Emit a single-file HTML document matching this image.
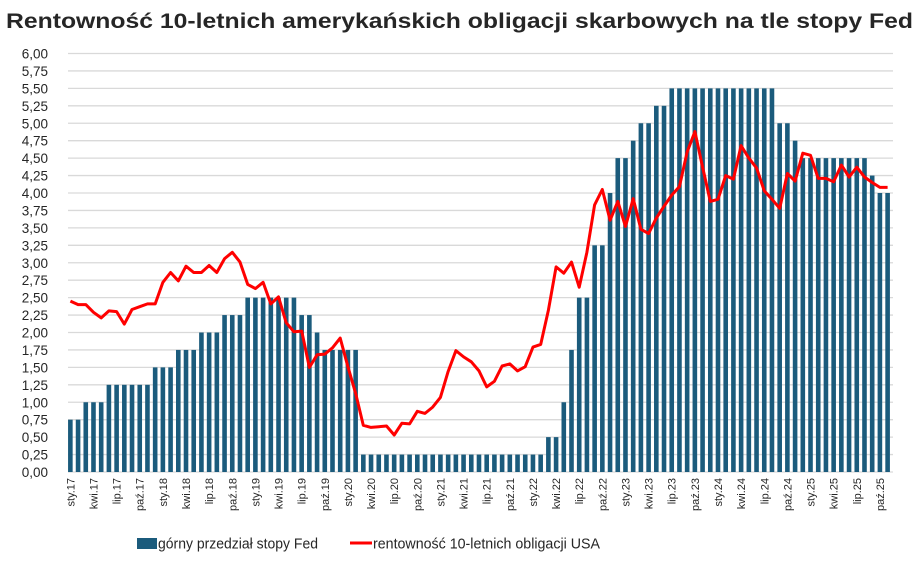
<!DOCTYPE html>
<html><head><meta charset="utf-8"><style>
body{margin:0;background:#fff;}
svg{display:block;font-family:"Liberation Sans","DejaVu Sans",sans-serif;}
</style></head><body>
<svg id="chart" width="920" height="564" viewBox="0 0 920 564" xmlns="http://www.w3.org/2000/svg">
<text x="6" y="28" font-size="21" font-weight="bold" fill="#262626" textLength="907" lengthAdjust="spacingAndGlyphs">Rentowność 10-letnich amerykańskich obligacji skarbowych na tle stopy Fed</text>
<g id="grid"></g>
<g id="yticks"></g>
<g id="bars"></g>
<g id="line"></g>
<g id="xticks"></g>
<g>
<rect x="137" y="538" width="20" height="11" fill="#1b5b7c"/>
<text x="158" y="548.5" font-size="15" fill="#262626" textLength="160" lengthAdjust="spacingAndGlyphs">górny przedział stopy Fed</text>
<line x1="350" y1="543" x2="372" y2="543" stroke="#ff0000" stroke-width="3"/>
<text x="373" y="548.5" font-size="15" fill="#262626" textLength="227" lengthAdjust="spacingAndGlyphs">rentowność 10-letnich obligacji USA</text>
</g>
</svg>
<script>
const monthNames = ["sty","lut","mar","kwi","maj","cze","lip","sie","wrz","paź","lis","gru"];
const yTicks = [0,0.25,0.5,0.75,1,1.25,1.5,1.75,2,2.25,2.5,2.75,3,3.25,3.5,3.75,4,4.25,4.5,4.75,5,5.25,5.5,5.75,6];
const fedRate = [
0.75,0.75,1,1,1,1.25,1.25,1.25,1.25,1.25,1.25,1.5,
1.5,1.5,1.75,1.75,1.75,2,2,2,2.25,2.25,2.25,2.5,
2.5,2.5,2.5,2.5,2.5,2.5,2.25,2.25,2,1.75,1.75,1.75,
1.75,1.75,0.25,0.25,0.25,0.25,0.25,0.25,0.25,0.25,0.25,0.25,
0.25,0.25,0.25,0.25,0.25,0.25,0.25,0.25,0.25,0.25,0.25,0.25,
0.25,0.25,0.5,0.5,1,1.75,2.5,2.5,3.25,3.25,4,4.5,
4.5,4.75,5,5,5.25,5.25,5.5,5.5,5.5,5.5,5.5,5.5,
5.5,5.5,5.5,5.5,5.5,5.5,5.5,5.5,5,5,4.75,4.5,
4.5,4.5,4.5,4.5,4.5,4.5,4.5,4.5,4.25,4,4];
const yield10 = [
2.45,2.40,2.40,2.29,2.21,2.31,2.30,2.12,2.33,2.37,2.41,2.41,
2.72,2.86,2.74,2.95,2.86,2.86,2.96,2.86,3.06,3.15,3.01,2.69,
2.63,2.72,2.41,2.51,2.14,2.01,2.02,1.50,1.68,1.69,1.78,1.92,
1.51,1.13,0.67,0.64,0.65,0.66,0.53,0.70,0.69,0.87,0.84,0.93,
1.07,1.44,1.74,1.65,1.58,1.45,1.22,1.30,1.52,1.55,1.45,1.51,
1.79,1.83,2.32,2.94,2.85,3.01,2.65,3.15,3.83,4.05,3.61,3.88,
3.52,3.92,3.48,3.42,3.64,3.81,3.97,4.09,4.59,4.88,4.37,3.88,
3.91,4.25,4.20,4.68,4.50,4.36,4.03,3.91,3.78,4.28,4.17,4.57,
4.54,4.21,4.21,4.16,4.40,4.23,4.37,4.23,4.15,4.08,4.08];
const startYear = 17;

const NS="http://www.w3.org/2000/svg";
const x0=66.5, step=7.71, yBase=472, yPer=69.75;
const xc=i=>x0+step*(i+0.5);
const ys=v=>yBase-v*yPer;
function mk(tag,attrs,parent){const e=document.createElementNS(NS,tag);for(const k in attrs)e.setAttribute(k,attrs[k]);parent.appendChild(e);return e;}
const grid=document.getElementById('grid'),yt=document.getElementById('yticks'),bars=document.getElementById('bars'),lineG=document.getElementById('line'),xt=document.getElementById('xticks');
yTicks.forEach(v=>{
  const l=mk('line',{x1:68,x2:893,y1:ys(v),y2:ys(v),stroke:'#d9d9d9','stroke-width':1.3},grid);
  
  
  const t=mk('text',{x:48,y:ys(v)+5,'font-size':13.5,fill:'#262626','text-anchor':'end'},yt);
  
  
  t.textContent=v.toFixed(2).replace('.',',');
});
fedRate.forEach((v,i)=>{
  const r=mk('rect',{x:xc(i)-2.3,y:ys(v),width:4.6,height:v*yPer,fill:'#1b5b7c'},bars);
  
  
});
const pts=yield10.map((v,i)=>xc(i).toFixed(1)+','+ys(v).toFixed(1)).join(' ');
const pl=mk('polyline',{points:pts,fill:'none',stroke:'#ff0000','stroke-width':3,'stroke-linejoin':'round'},lineG);


for(let i=0;i<fedRate.length;i+=3){
  const m=i%12,yr=startYear+Math.floor(i/12);
  const x=xc(i)+4;
  const t=mk('text',{x:0,y:0,'font-size':11,fill:'#262626','text-anchor':'end',transform:`translate(${x.toFixed(1)},478) rotate(-90)`},xt);
  
  
  t.textContent=monthNames[m]+'.'+yr;
}
</script>
</body></html>
